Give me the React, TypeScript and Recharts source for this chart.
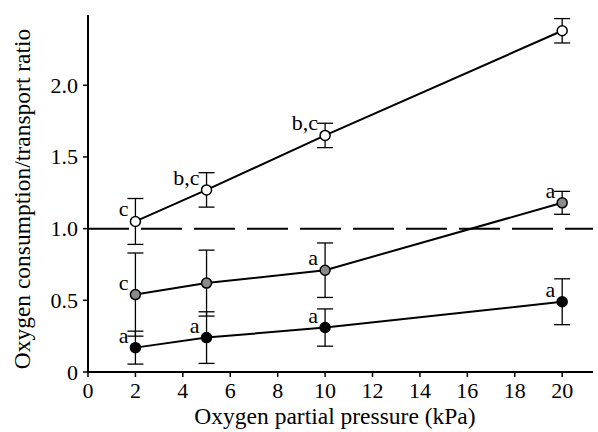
import React from 'react';
import { LineChart, Line, XAxis, YAxis, ErrorBar, ReferenceLine, LabelList, Label } from 'recharts';

const pressures = [2, 5, 10, 20];
const openMean = [1.05, 1.27, 1.65, 2.38];
const openErr = [0.16, 0.12, 0.085, 0.085];
const openLabels = ['c', 'b,c', 'b,c', ''];
const grayMean = [0.54, 0.62, 0.71, 1.18];
const grayErr = [0.29, 0.23, 0.19, 0.08];
const grayLabels = ['c', '', 'a', 'a'];
const blackMean = [0.17, 0.24, 0.31, 0.49];
const blackErr = [0.115, 0.18, 0.13, 0.16];
const blackLabels = ['a', 'a', 'a', 'a'];
const xTicks = [0, 2, 4, 6, 8, 10, 12, 14, 16, 18, 20];
const yTicks = [0, 0.5, 1, 1.5, 2];
const referenceRatio = 1;
const xTitle = 'Oxygen partial pressure (kPa)';
const yTitle = 'Oxygen consumption/transport ratio';

const data = pressures.map((p, i) => ({
  p,
  open: openMean[i],
  openErr: openErr[i],
  openLabel: openLabels[i],
  gray: grayMean[i],
  grayErr: grayErr[i],
  grayLabel: grayLabels[i],
  black: blackMean[i],
  blackErr: blackErr[i],
  blackLabel: blackLabels[i],
}));

const FONT = '"Liberation Serif", "Times New Roman", serif';
const FS = 22;
const TITLE_FS = 23.5;

const letterLabel = (props: any) => {
  const { x, y, value } = props;
  if (!value) return null;
  return (
    <text x={x - 7} y={y - 5} textAnchor="end" fontFamily={FONT} fontSize={FS} fill="#000">
      {value}
    </text>
  );
};

const XTick = (props: any) => {
  const { x, y, payload } = props;
  return (
    <text x={x} y={y} dy={15} textAnchor="middle" fontFamily={FONT} fontSize={FS} fill="#000">
      {String(payload.value)}
    </text>
  );
};

const YTick = (props: any) => {
  const { x, y, payload } = props;
  const v = payload.value as number;
  return (
    <text x={x} y={y} dy={7.5} textAnchor="end" fontFamily={FONT} fontSize={FS} fill="#000">
      {v === 0 ? '0' : v.toFixed(1)}
    </text>
  );
};

export default function App() {
  return (
    <div style={{ position: 'absolute', left: 0, top: 0, background: '#fff' }}>
      <LineChart width={598} height={432} data={data} margin={{ top: 15, right: 5, bottom: 0, left: 0 }}>
        <XAxis
          xAxisId="b"
          dataKey="p"
          type="number"
          domain={[0, 21.3]}
          ticks={xTicks}
          allowDataOverflow
          height={60}
          tickSize={5}
          tickMargin={6}
          tick={<XTick />}
          axisLine={{ stroke: '#000', strokeWidth: 2 }}
          tickLine={{ stroke: '#000', strokeWidth: 1.5 }}
        >
          <Label
            content={() => (
              <text x={335} y={424} textAnchor="middle" fontFamily={FONT} fontSize={TITLE_FS} fill="#000">
                {xTitle}
              </text>
            )}
          />
        </XAxis>
        <XAxis
          xAxisId="t"
          dataKey="p"
          type="number"
          orientation="top"
          domain={[0, 21.3]}
          height={0}
          tick={false}
          tickLine={false}
          axisLine={{ stroke: '#000', strokeWidth: 2 }}
        />
        <YAxis
          yAxisId="l"
          type="number"
          domain={[0, 2.49]}
          ticks={yTicks}
          allowDataOverflow
          width={88}
          tickSize={5}
          tickMargin={5}
          tick={<YTick />}
          axisLine={{ stroke: '#000', strokeWidth: 2 }}
          tickLine={{ stroke: '#000', strokeWidth: 1.5 }}
        >
          <Label
            content={() => (
              <text
                x={30}
                y={199}
                transform="rotate(-90 30 199)"
                textAnchor="middle"
                fontFamily={FONT}
                fontSize={TITLE_FS}
                fill="#000"
              >
                {yTitle}
              </text>
            )}
          />
        </YAxis>
        <YAxis
          yAxisId="r"
          type="number"
          orientation="right"
          domain={[0, 2.49]}
          width={0}
          tick={false}
          tickLine={false}
          axisLine={{ stroke: '#000', strokeWidth: 1.2 }}
        />
        <ReferenceLine
          xAxisId="b"
          yAxisId="l"
          y={referenceRatio}
          stroke="#000"
          strokeWidth={2}
          strokeDasharray="41 12"
        />
        <Line
          xAxisId="b"
          yAxisId="l"
          dataKey="black"
          stroke="#000"
          strokeWidth={2}
          isAnimationActive={false}
          dot={{ r: 5, fill: '#000', stroke: '#000', strokeWidth: 1.5 }}
          activeDot={false}
        >
          <ErrorBar dataKey="blackErr" width={8} stroke="#000" strokeWidth={1.3} direction="y" />
          <LabelList dataKey="blackLabel" content={letterLabel} />
        </Line>
        <Line
          xAxisId="b"
          yAxisId="l"
          dataKey="gray"
          stroke="#000"
          strokeWidth={2}
          isAnimationActive={false}
          dot={{ r: 5, fill: '#8a8a8a', stroke: '#000', strokeWidth: 1.5 }}
          activeDot={false}
        >
          <ErrorBar dataKey="grayErr" width={8} stroke="#000" strokeWidth={1.3} direction="y" />
          <LabelList dataKey="grayLabel" content={letterLabel} />
        </Line>
        <Line
          xAxisId="b"
          yAxisId="l"
          dataKey="open"
          stroke="#000"
          strokeWidth={2}
          isAnimationActive={false}
          dot={{ r: 5, fill: '#fff', stroke: '#000', strokeWidth: 1.5 }}
          activeDot={false}
        >
          <ErrorBar dataKey="openErr" width={8} stroke="#000" strokeWidth={1.3} direction="y" />
          <LabelList dataKey="openLabel" content={letterLabel} />
        </Line>
      </LineChart>
    </div>
  );
}
